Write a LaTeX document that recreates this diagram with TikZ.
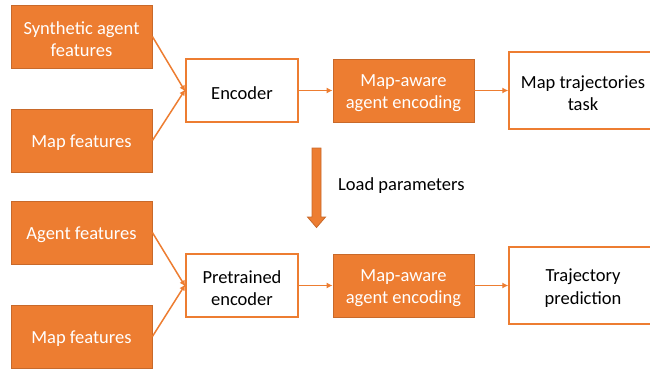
\documentclass[tikz,border=0pt]{standalone}
\usepackage{fontspec}
\setmainfont{Carlito}
\usetikzlibrary{arrows.meta}
\definecolor{ora}{HTML}{ED7D31}
\definecolor{oradark}{HTML}{C8692A}
\begin{document}
\begin{tikzpicture}[x=1pt,y=-1pt,
  every node/.style={font=\fontsize{18.5}{22.5}\selectfont, align=center, inner sep=0pt},
  txt/.style={label={[yshift=-2.5pt]center:{#1}}},
  wtxt/.style={label={[yshift=-2.5pt, text=white]center:{#1}}},
  filled/.style={draw=oradark, fill=ora, line width=0.8pt, minimum width=141pt, minimum height=63pt},
  plain/.style={draw=ora, fill=white, line width=1.4pt},
  link/.style={draw=ora, line width=1.5pt, -{Latex[length=6pt,width=6pt]}}]
\useasboundingbox (0,0) rectangle (650,368);
\begin{scope}
\clip (0,0) rectangle (650,368);
% top row: pretraining
\node[filled, wtxt={Synthetic agent\\features}] (syn) at (81.5,36.5) {};
\node[filled, wtxt={Map features}] (map1) at (81.5,140.5) {};
\node[plain, minimum width=112pt, minimum height=63pt, txt={Encoder}] (enc) at (242,90.5) {};
\node[filled, wtxt={Map-aware\\agent encoding}] (maw1) at (403.5,90.5) {};
\node[plain, minimum width=148pt, minimum height=77pt, txt={Map trajectories\\task}] (task) at (583,90.5) {};
% bottom row: downstream use
\node[filled, wtxt={Agent features}] (agent) at (81.5,232.5) {};
\node[filled, wtxt={Map features}] (map2) at (81.5,336.5) {};
\node[plain, minimum width=112pt, minimum height=63pt, txt={Pretrained\\encoder}] (penc) at (242,285.5) {};
\node[filled, wtxt={Map-aware\\agent encoding}] (maw2) at (403.5,285.5) {};
\node[plain, minimum width=148pt, minimum height=77pt, txt={Trajectory\\prediction}] (traj) at (583,285.5) {};
\end{scope}
% connectors
\draw[link] (syn.east) -- ([yshift=-1pt]enc.west);
\draw[link] (map1.east) -- ([yshift=1pt]enc.west);
\draw[link] (enc) -- (maw1);
\draw[link] (maw1) -- (task);
\draw[link] (agent.east) -- ([yshift=-1pt]penc.west);
\draw[link] (map2.east) -- ([yshift=1pt]penc.west);
\draw[link] (penc) -- (maw2);
\draw[link] (maw2) -- (traj);
% parameter transfer arrow
\draw[fill=ora, draw=oradark, line width=0.8pt]
  (312,148) -- (321,148) -- (321,217) -- (325.5,217) -- (316.5,227.5)
  -- (307.5,217) -- (312,217) -- cycle;
\node[anchor=west] (load) at (338,185.5) {Load parameters};
\end{tikzpicture}
\end{document}
